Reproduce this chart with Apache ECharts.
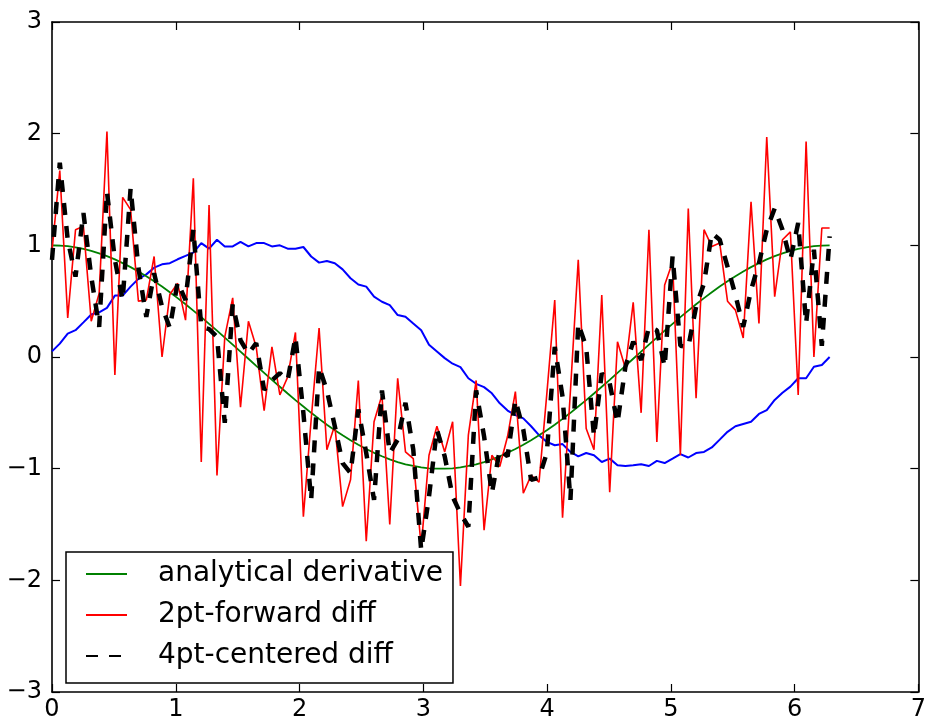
<!DOCTYPE html>
<html>
<head>
<meta charset="utf-8">
<script src="https://cdn.jsdelivr.net/npm/echarts@6/dist/echarts.min.js"></script>
<style>
  html, body { margin: 0; padding: 0; background: #fff; }
  #chart { width: 929px; height: 725px; }
</style>
</head>
<body>
<div id="chart"></div>
<script>
// Sample grid: 100 points on [0, 2π]
const xs = [0, 0.063, 0.127, 0.190, 0.254, 0.317, 0.381, 0.444, 0.508, 0.571,
  0.635, 0.698, 0.762, 0.825, 0.889, 0.952, 1.015, 1.079, 1.142, 1.206,
  1.269, 1.333, 1.396, 1.460, 1.523, 1.587, 1.650, 1.714, 1.777, 1.841,
  1.904, 1.967, 2.031, 2.094, 2.158, 2.221, 2.285, 2.348, 2.412, 2.475,
  2.539, 2.602, 2.666, 2.729, 2.793, 2.856, 2.919, 2.983, 3.046, 3.110,
  3.173, 3.237, 3.300, 3.364, 3.427, 3.491, 3.554, 3.618, 3.681, 3.744,
  3.808, 3.871, 3.935, 3.998, 4.062, 4.125, 4.189, 4.252, 4.316, 4.379,
  4.442, 4.506, 4.569, 4.633, 4.696, 4.760, 4.823, 4.887, 4.950, 5.014,
  5.077, 5.141, 5.204, 5.268, 5.331, 5.395, 5.458, 5.522, 5.585, 5.648,
  5.712, 5.775, 5.839, 5.902, 5.966, 6.029, 6.093, 6.156, 6.220, 6.283];

// Noisy signal
const signal = [0.05, 0.12, 0.21, 0.24, 0.31, 0.38, 0.40, 0.44, 0.55, 0.55,
  0.63, 0.70, 0.74, 0.80, 0.83, 0.84, 0.875, 0.905, 0.935, 1.02,
  0.97, 1.05, 0.99, 0.99, 1.03, 0.99, 1.02, 1.02, 0.99, 1.00,
  0.97, 0.97, 0.985, 0.90, 0.845, 0.86, 0.84, 0.785, 0.705, 0.65,
  0.63, 0.54, 0.495, 0.465, 0.376, 0.36, 0.30, 0.24, 0.11, 0.05,
  -0.01, -0.06, -0.09, -0.19, -0.24, -0.27, -0.325, -0.415, -0.48, -0.52,
  -0.55, -0.62, -0.70, -0.76, -0.79, -0.78, -0.85, -0.89, -0.86, -0.88,
  -0.94, -0.91, -0.97, -0.976, -0.97, -0.96, -0.976, -0.93, -0.95, -0.91,
  -0.87, -0.90, -0.86, -0.85, -0.81, -0.74, -0.67, -0.62, -0.60, -0.58,
  -0.51, -0.475, -0.385, -0.32, -0.265, -0.19, -0.19, -0.087, -0.072, 0.0];

// Analytical derivative
const analytic = [1.000, 0.998, 0.992, 0.982, 0.968, 0.950, 0.928, 0.903, 0.874, 0.841,
  0.805, 0.766, 0.724, 0.678, 0.631, 0.580, 0.527, 0.472, 0.415, 0.357,
  0.297, 0.236, 0.174, 0.111, 0.048, -0.016, -0.079, -0.142, -0.205, -0.266,
  -0.327, -0.386, -0.443, -0.500, -0.554, -0.606, -0.655, -0.701, -0.745, -0.786,
  -0.824, -0.858, -0.889, -0.917, -0.941, -0.961, -0.976, -0.988, -0.997, -1.000,
  -1.000, -0.997, -0.988, -0.976, -0.961, -0.941, -0.917, -0.889, -0.858, -0.824,
  -0.786, -0.745, -0.701, -0.655, -0.606, -0.554, -0.500, -0.443, -0.386, -0.327,
  -0.266, -0.205, -0.142, -0.079, -0.016, 0.048, 0.111, 0.174, 0.236, 0.297,
  0.357, 0.415, 0.472, 0.527, 0.580, 0.631, 0.678, 0.724, 0.766, 0.805,
  0.841, 0.874, 0.903, 0.928, 0.950, 0.968, 0.982, 0.992, 0.998, 1.000];

// 2-point forward difference
const forwardDiff = [0.95, 1.67, 0.35, 1.14, 1.17, 0.32, 0.57, 2.02, -0.16, 1.43,
  1.32, 0.50, 0.51, 0.90, 0.00, 0.56, 0.66, 0.33, 1.60, -0.94,
  1.36, -1.06, 0.18, 0.53, -0.45, 0.32, 0.09, -0.48, 0.09, -0.34,
  -0.18, 0.22, -1.43, -0.56, 0.26, -0.83, -0.61, -1.34, -1.10, -0.21,
  -1.65, -0.58, -0.34, -1.50, -0.19, -0.85, -0.91, -1.70, -0.88, -0.62,
  -0.85, -0.58, -2.05, -0.70, -0.21, -1.55, -0.88, -0.98, -0.71, -0.31,
  -1.22, -1.06, -1.12, -0.33, 0.51, -1.44, -0.30, 0.87, -0.64, -0.83,
  0.555, -1.21, 0.137, -0.10, 0.49, -0.50, 1.14, -0.76, 0.645, 0.85,
  -0.88, 1.33, -0.37, 1.14, 0.99, 1.02, 0.50, 0.42, 0.17, 1.39,
  0.30, 1.97, 0.54, 1.05, 1.12, -0.34, 1.93, 0.00, 1.155, 1.155];

// 4-point centered difference
const centeredDiff = [0.87, 1.74, 1.05, 0.72, 1.29, 0.72, 0.27, 1.48, 0.87, 0.51,
  1.51, 0.80, 0.36, 0.75, 0.45, 0.26, 0.67, 0.51, 1.14, 0.27,
  0.25, 0.18, -0.59, 0.47, 0.15, 0.03, 0.125, -0.295, -0.21, -0.145,
  -0.21, 0.18, -0.50, -1.28, -0.09, -0.30, -0.62, -0.95, -1.04, -0.47,
  -0.86, -1.28, -0.30, -0.86, -0.74, -0.41, -0.83, -1.73, -1.25, -0.65,
  -0.89, -1.25, -1.40, -1.52, -0.30, -0.71, -1.22, -0.83, -0.89, -0.385,
  -0.65, -1.10, -1.08, -0.86, 0.09, -0.355, -1.28, 0.30, 0.09, -0.71,
  -0.146, -0.235, -0.59, -0.087, 0.137, -0.027, 0.27, 0.24, -0.087, 0.90,
  0.10, 0.09, 0.45, 0.66, 1.11, 1.05, 0.81, 0.555, 0.27, 0.60,
  0.84, 1.14, 1.33, 1.14, 0.87, 1.20, 0.30, 0.96, 0.10, 1.08];

const pairs = ys => xs.map((x, i) => [x, ys[i]]);
const FONT = 'DejaVu Sans';
const minus = v => String(v).replace('-', '\u2212');

const axisCommon = {
  type: 'value',
  interval: 1,
  splitLine: { show: false },
  axisLine: { onZero: false, lineStyle: { color: '#000', width: 1.6 } },
  axisTick: { inside: true, length: 8, lineStyle: { color: '#000', width: 1.2 } }
};

const chart = echarts.init(document.getElementById('chart'), null, { renderer: 'canvas' });
chart.setOption({
  animation: false,
  backgroundColor: '#fff',
  grid: { left: 52, right: 10, top: 22, bottom: 33, containLabel: false },
  xAxis: [
    Object.assign({}, axisCommon, {
      min: 0, max: 7, position: 'bottom',
      axisLabel: { color: '#000', fontFamily: FONT, fontSize: 24, margin: 6, formatter: minus }
    }),
    Object.assign({}, axisCommon, {
      min: 0, max: 7, position: 'top', axisLabel: { show: false }
    })
  ],
  yAxis: [
    Object.assign({}, axisCommon, {
      min: -3, max: 3, position: 'left',
      axisLabel: { color: '#000', fontFamily: FONT, fontSize: 24, margin: 10, formatter: minus }
    }),
    Object.assign({}, axisCommon, {
      min: -3, max: 3, position: 'right', axisLabel: { show: false }
    })
  ],
  legend: {
    data: ['analytical derivative', '2pt-forward diff', '4pt-centered diff'],
    orient: 'vertical',
    left: 66,
    top: 552,
    padding: [6, 10, 11, 19],
    itemWidth: 41,
    itemHeight: 14,
    itemGap: 9,
    itemStyle: { opacity: 0 },
    backgroundColor: '#fff',
    borderColor: '#000',
    borderWidth: 1.5,
    borderRadius: 0,
    selectedMode: false,
    textStyle: {
      color: '#000', fontFamily: FONT, fontSize: 28, lineHeight: 32,
      padding: [0, 0, 0, 26]
    }
  },
  series: [
    {
      name: 'signal', type: 'line', data: pairs(signal), showSymbol: false, symbol: 'none',
      lineStyle: { color: '#0000ff', width: 2 }, itemStyle: { color: '#0000ff' }, z: 2
    },
    {
      name: 'analytical derivative', type: 'line', data: pairs(analytic), showSymbol: false, symbol: 'none',
      lineStyle: { color: '#008000', width: 1.8 }, itemStyle: { color: '#008000' }, z: 3
    },
    {
      name: '2pt-forward diff', type: 'line', data: pairs(forwardDiff), showSymbol: false, symbol: 'none',
      lineStyle: { color: '#ff0000', width: 1.6 }, itemStyle: { color: '#ff0000' }, z: 4
    },
    {
      name: '4pt-centered diff', type: 'line', data: pairs(centeredDiff), showSymbol: false, symbol: 'none',
      lineStyle: { color: '#000', width: 4.5, type: [12, 11], cap: 'butt' }, itemStyle: { color: '#000' }, z: 5
    }
  ]
});
</script>
</body>
</html>
